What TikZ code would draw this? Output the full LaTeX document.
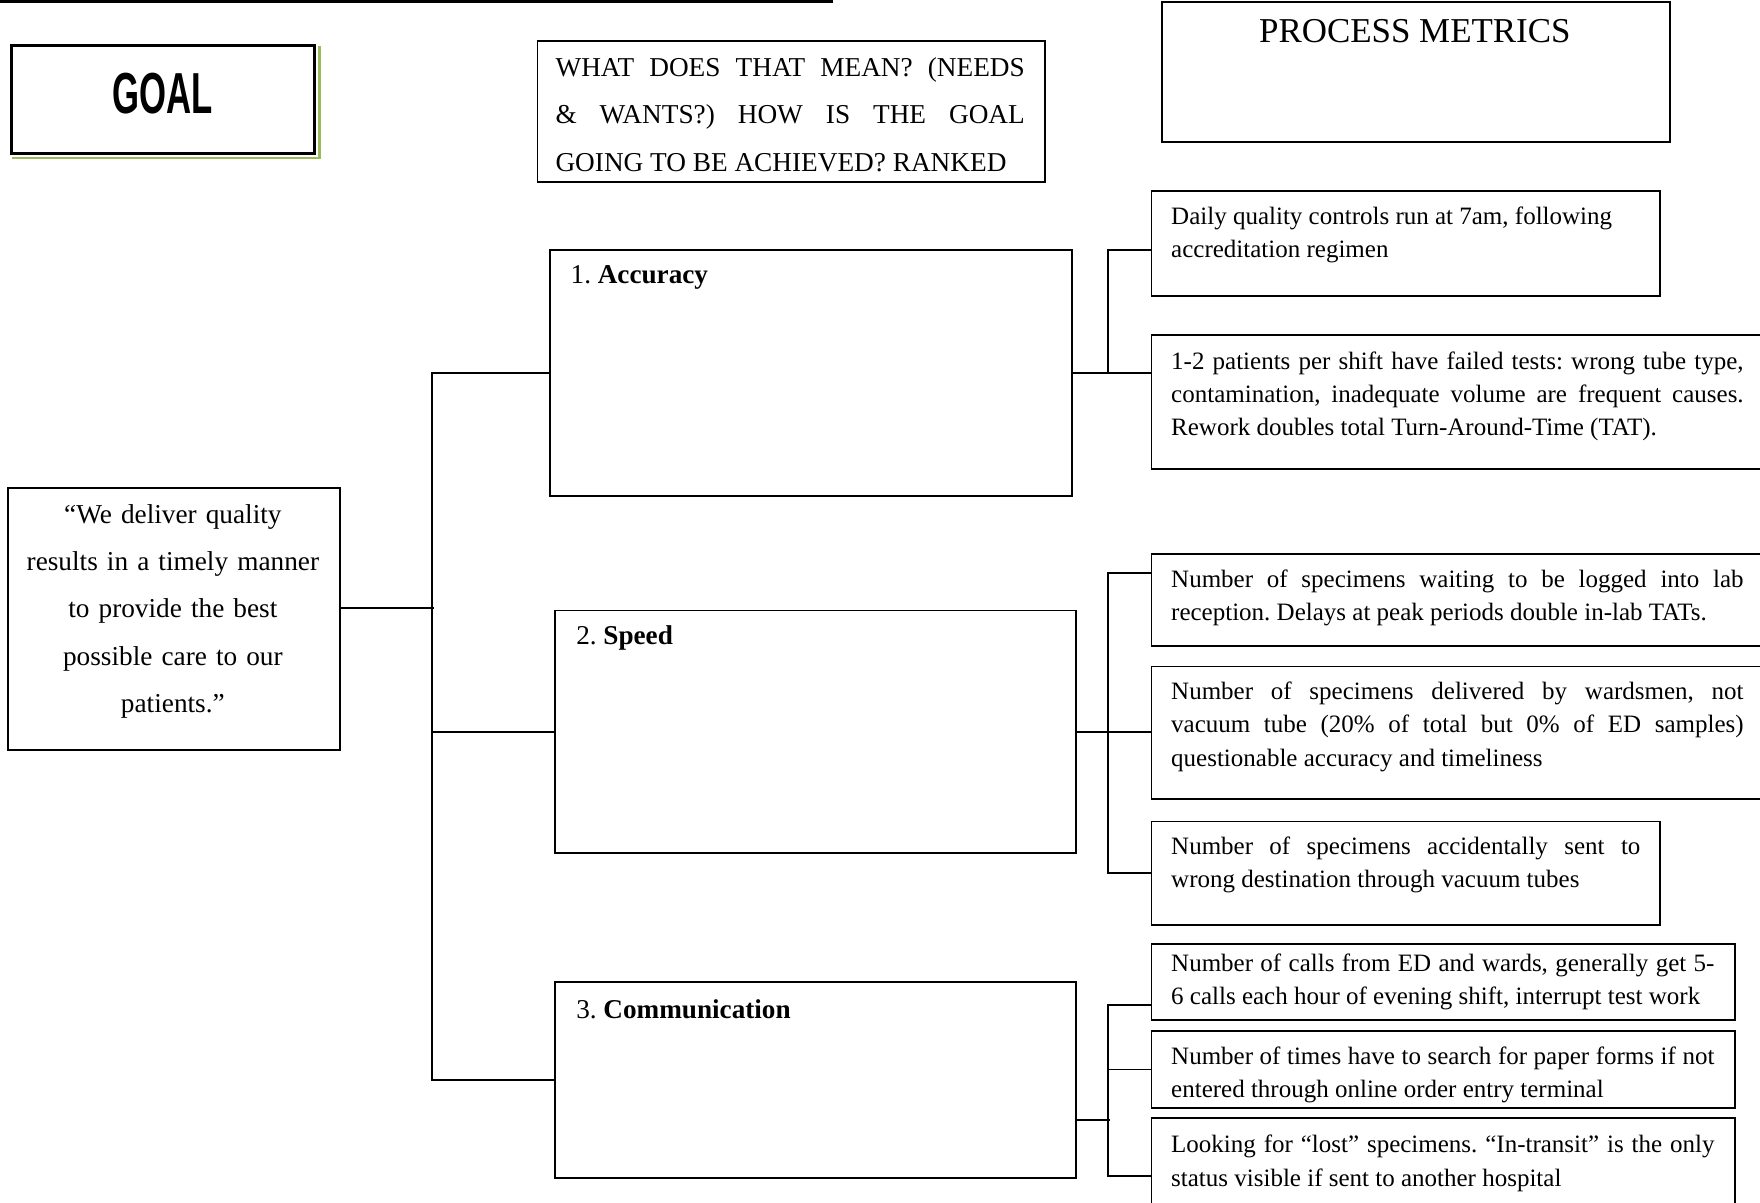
\documentclass[tikz,border=0pt]{standalone}
\usepackage{fontspec}
\setmainfont{Liberation Serif}
\newfontfamily\goalfont[FakeStretch=0.6]{Liberation Sans}
\usepackage{xcolor}
\definecolor{ink}{HTML}{000000}
\definecolor{shadowgreen}{HTML}{9BBB59}
\usepackage{tikz}
\usetikzlibrary{positioning,calc}
\hyphenpenalty=10000
\exhyphenpenalty=10000
\frenchspacing

\begin{document}
\begin{tikzpicture}[
  box/.style={rectangle,draw=ink,line width=0.8pt,inner sep=0pt,anchor=north west},
  link/.style={draw=ink,line width=0.8pt},
  metric/.style={inner sep=0pt,anchor=north west,align=justify,font=\fontsize{10.67}{14.2}\selectfont},
  rank/.style={inner sep=0pt,anchor=west,font=\fontsize{11.6}{14}\selectfont}]
  \clip (0,0) rectangle (26.4,-18.045);
  % header row
  \draw[ink,line width=1pt] (0,-0.02) -- (12.49,-0.02);
  \node[box,line width=1.2pt,minimum width=4.55cm,minimum height=1.62cm] (goal) at (0.152,-0.657) {};
  \draw[shadowgreen,line width=1.2pt] ([shift={(0.03,-0.05)}]goal.south west) -- ([shift={(0.05,-0.05)}]goal.south east) -- ([shift={(0.05,-0.03)}]goal.north east);
  \node[inner sep=0pt,font=\goalfont\bfseries\fontsize{24.7}{25}\selectfont] (goaltxt) at (2.44,-1.41) {GOAL};
  \node[box,minimum width=7.61cm,minimum height=2.105cm] (meaning) at (8.048,-0.606) {};
  \node[inner sep=0pt,text width=7.04cm,align=justify,font=\fontsize{11.64}{20.2}\selectfont] (meaningtxt) at (11.853,-1.72)
    {WHAT DOES THAT MEAN? (NEEDS\linebreak \& WANTS?) HOW IS THE GOAL\linebreak GOING TO BE ACHIEVED? RANKED};
  \node[box,minimum width=7.627cm,minimum height=2.104cm] (process) at (17.41,-0.017) {};
  \node[inner sep=0pt,font=\fontsize{14.9}{16}\selectfont] (processtxt) at (21.223,-0.471) {PROCESS METRICS};

  % goal statement
  \node[box,minimum width=4.984cm,minimum height=3.923cm] (mission) at (0.101,-7.307) {};
  \node[inner sep=0pt,text width=4.6cm,align=center,font=\fontsize{11.64}{20.24}\selectfont] (missiontxt) at (2.593,-9.17)
    {“We deliver quality\\ results in a timely manner\\ to provide the best\\ possible care to our\\ patients.”};

  % ranked needs
  \node[box,minimum width=7.83cm,minimum height=3.687cm] (acc) at (8.233,-3.738) {};
  \node[box,minimum width=7.813cm,minimum height=3.636cm] (speed) at (8.317,-9.143) {};
  \node[box,minimum width=7.813cm,minimum height=2.946cm] (comm) at (8.317,-14.716) {};
  \node[rank] (acctxt) at ([shift={(0.32,-0.42)}]acc.north west) {1. \textbf{Accuracy}};
  \node[rank] (speedtxt) at ([shift={(0.32,-0.42)}]speed.north west) {2. \textbf{Speed}};
  \node[rank] (commtxt) at ([shift={(0.32,-0.42)}]comm.north west) {3. \textbf{Communication}};

  % metrics
  \node[box,minimum width=7.627cm,minimum height=1.583cm] (a1) at (17.258,-2.845) {};
  \node[box,minimum width=9.5cm,minimum height=2.004cm] (a2) at (17.258,-5.017) {};
  \node[box,minimum width=9.5cm,minimum height=1.38cm] (s1) at (17.258,-8.301) {};
  \node[box,minimum width=9.5cm,minimum height=1.987cm] (s2) at (17.258,-9.984) {};
  \node[box,minimum width=7.627cm,minimum height=1.549cm] (s3) at (17.258,-12.308) {};
  \node[box,minimum width=8.755cm,minimum height=1.145cm] (c1) at (17.258,-14.143) {};
  \node[box,minimum width=8.755cm,minimum height=1.144cm] (c2) at (17.258,-15.456) {};
  \node[box,minimum width=8.755cm,minimum height=2cm] (c3) at (17.258,-16.753) {};

  \node[metric,text width=7.04cm] (a1txt) at ([shift={(0.303,-0.25)}]a1.north west)
    {Daily quality controls run at 7am, following\\ accreditation regimen};
  \node[metric,text width=8.587cm] (a2txt) at ([shift={(0.303,-0.25)}]a2.north west)
    {1-2 patients per shift have failed tests: wrong tube type,\linebreak contamination, inadequate volume are frequent causes.\linebreak Rework doubles total Turn-Around-Time (TAT).};
  \node[metric,text width=8.587cm] (s1txt) at ([shift={(0.303,-0.24)}]s1.north west)
    {Number of specimens waiting to be logged into lab\linebreak reception. Delays at peak periods double in-lab TATs.};
  \node[metric,text width=8.587cm] (s2txt) at ([shift={(0.303,-0.24)}]s2.north west)
    {Number of specimens delivered by wardsmen, not\linebreak vacuum tube (20\% of total but 0\% of ED samples)\linebreak questionable accuracy and timeliness};
  \node[metric,text width=7.038cm] (s3txt) at ([shift={(0.303,-0.24)}]s3.north west)
    {Number of specimens accidentally sent to\linebreak wrong destination through vacuum tubes};
  \node[metric,text width=8.149cm] (c1txt) at ([shift={(0.303,-0.16)}]c1.north west)
    {Number of calls from ED and wards, generally get 5-\linebreak 6 calls each hour of evening shift, interrupt test work};
  \node[metric,text width=8.149cm] (c2txt) at ([shift={(0.303,-0.24)}]c2.north west)
    {Number of times have to search for paper forms if not\linebreak entered through online order entry terminal};
  \node[metric,text width=8.149cm] (c3txt) at ([shift={(0.303,-0.27)}]c3.north west)
    {Looking for “lost” specimens. “In-transit” is the only\linebreak status visible if sent to another hospital};

  % goal statement to ranked needs
  \draw[link] ([yshift=0.16cm]mission.east) -- ++(1.395,0);
  \draw[link] (acc.west) -- ++(-1.75,0) |- (comm.west);
  \draw[link] (speed.west) -- ++(-1.835,0);
  % ranked needs to metrics
  \draw[link] (acc.east) -- (acc.east -| a2.west);
  \draw[link] ([yshift=-0.1cm]a1.west) -- ++(-0.64,0) |- (acc.east);
  \draw[link] (speed.east) -- (speed.east -| s2.west);
  \draw[link] ([yshift=-0.29cm]s1.north west) -- ++(-0.64,0) |- (s3.west);
  \draw[link] ([yshift=-0.6cm]comm.east) -- ++(0.49,0);
  \draw[link] ([yshift=0.24cm]c1.south west) -- ++(-0.64,0) |- ([yshift=-0.89cm]c3.north west);
  \draw[link] (c2.west) -- ++(-0.64,0);
\end{tikzpicture}
\end{document}
